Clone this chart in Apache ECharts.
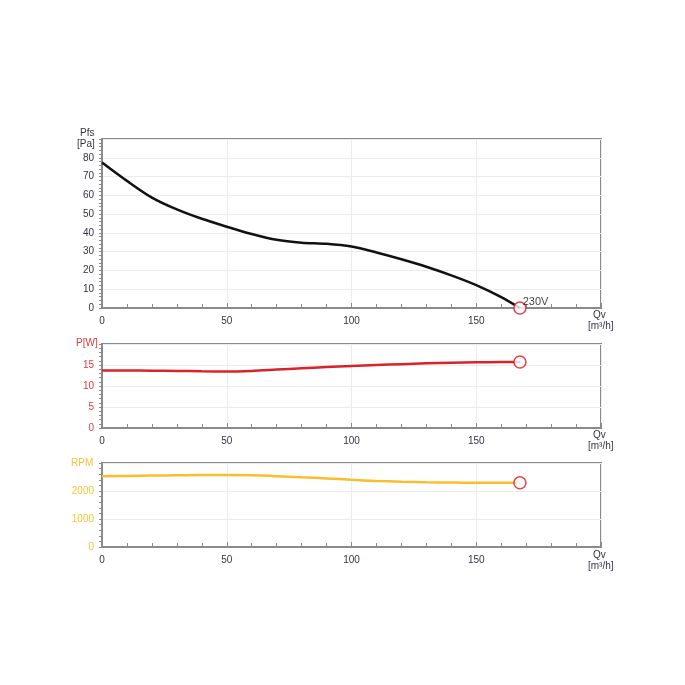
<!DOCTYPE html>
<html>
<head>
<meta charset="utf-8">
<script src="https://cdn.jsdelivr.net/npm/echarts@6/dist/echarts.min.js"></script>
<style>
html, body { margin: 0; padding: 0; background: #fff; }
#main { width: 685px; height: 685px; }
</style>
</head>
<body>
<div id="main"></div>
<script>
// 风量 Qv [m3/h]
var qv = [0, 10, 20, 30, 40, 50, 60, 70, 80, 90, 100, 110, 120, 130, 140, 150, 160, 167.5];
// 静压 Pfs [Pa]
var pfs = [77.5, 67.7, 58.8, 52.5, 47.5, 43.3, 39.4, 36.3, 34.8, 34.2, 32.7, 29.6, 26, 22, 17.4, 12.2, 5.8, 0];
// 功率 P [W]
var power = [13.7, 13.7, 13.65, 13.6, 13.5, 13.45, 13.6, 13.9, 14.2, 14.5, 14.75, 15, 15.2, 15.4, 15.55, 15.65, 15.7, 15.7];
// 转速 RPM
var rpm = [2530, 2540, 2550, 2560, 2570, 2570, 2560, 2530, 2490, 2450, 2400, 2360, 2330, 2310, 2300, 2295, 2295, 2295];
var endLabel = "230V";

var font = "Liberation Sans";
var frameColor = "#8a8a8a";
var gridLineColor = "#ececec";
var textColor = "#333344";

function pairs(xs, ys) {
	var arr = [];
	for (var i = 0; i < xs.length; i++) {
		arr.push([xs[i], ys[i]]);
	}
	return arr;
}

function lastPoint(xs, ys) {
	return [[xs[xs.length - 1], ys[ys.length - 1]]];
}

/**
 * x轴
 */
function makeX(idx) {
	return {
		type: 'value',
		gridIndex: idx,
		min: 0,
		max: 200,
		interval: 50,
		axisLine: { show: true, lineStyle: { color: frameColor, width: 2 } },
		axisTick: { show: true, inside: true, length: 5, lineStyle: { color: frameColor } },
		minorTick: { show: true, splitNumber: 5, length: 4, lineStyle: { color: frameColor } },
		axisLabel: {
			color: textColor, fontFamily: font, fontSize: 10, margin: 8,
			formatter: function(v) { return v >= 200 ? '' : v; }
		},
		splitLine: { show: true, lineStyle: { color: gridLineColor } }
	};
}

/**
 * y轴
 */
function makeY(idx, max, interval, labelColor) {
	return {
		type: 'value',
		gridIndex: idx,
		min: 0,
		max: max,
		interval: interval,
		axisLine: { show: true, lineStyle: { color: frameColor, width: 2 } },
		axisTick: { show: true, length: 3, lineStyle: { color: frameColor } },
		minorTick: { show: true, splitNumber: 5, length: 3, lineStyle: { color: frameColor } },
		axisLabel: {
			color: labelColor, fontFamily: font, fontSize: 10, margin: 8,
			formatter: function(v) { return v >= max ? '' : v; }
		},
		splitLine: { show: true, lineStyle: { color: gridLineColor } }
	};
}

function markerSeries(idx, data, label) {
	return {
		type: 'scatter',
		xAxisIndex: idx,
		yAxisIndex: idx,
		data: data,
		symbol: 'circle',
		symbolSize: 12,
		z: 5,
		itemStyle: { color: '#fff', borderColor: '#e2141c', borderWidth: 1.5 },
		label: label ? {
			show: true,
			formatter: label,
			position: 'right',
			offset: [-9, -6],
			color: '#111',
			fontFamily: font,
			fontSize: 11
		} : { show: false }
	};
}

function axisText(x, y, text, color) {
	return {
		type: 'text',
		left: x,
		top: y,
		style: {
			text: text,
			fill: color,
			font: '10px "' + font + '"'
		}
	};
}

var dom = document.getElementById('main');
var myChart = echarts.init(dom);

var option = {
	animation: false,
	backgroundColor: '#fff',
	grid: [
		{ left: 102, right: 84, top: 139, height: 169, show: true, borderColor: frameColor, borderWidth: 2 },
		{ left: 102, right: 84, top: 344, height: 84, show: true, borderColor: frameColor, borderWidth: 2 },
		{ left: 102, right: 84, top: 463, height: 84, show: true, borderColor: frameColor, borderWidth: 2 }
	],
	xAxis: [makeX(0), makeX(1), makeX(2)],
	yAxis: [
		makeY(0, 90, 10, textColor),
		makeY(1, 20, 5, '#e03a3a'),
		makeY(2, 3000, 1000, '#f8c23a')
	],
	graphic: [
		axisText(80, 128, 'Pfs', textColor),
		axisText(77, 139, '[Pa]', textColor),
		axisText(76, 338, 'P[W]', '#e03a3a'),
		axisText(71, 458, 'RPM', '#f8c23a'),
		axisText(593, 310, 'Qv', textColor),
		axisText(588, 321, '[m³/h]', textColor),
		axisText(593, 430, 'Qv', textColor),
		axisText(588, 441, '[m³/h]', textColor),
		axisText(593, 550, 'Qv', textColor),
		axisText(588, 561, '[m³/h]', textColor)
	],
	series: [
		{
			type: 'line', xAxisIndex: 0, yAxisIndex: 0,
			data: pairs(qv, pfs), smooth: 0.3, showSymbol: false,
			lineStyle: { color: '#111', width: 2.5 }
		},
		{
			type: 'line', xAxisIndex: 1, yAxisIndex: 1,
			data: pairs(qv, power), smooth: 0.3, showSymbol: false,
			lineStyle: { color: '#d9232b', width: 2.5 }
		},
		{
			type: 'line', xAxisIndex: 2, yAxisIndex: 2,
			data: pairs(qv, rpm), smooth: 0.3, showSymbol: false,
			lineStyle: { color: '#fbbd2e', width: 2.5 }
		},
		markerSeries(0, lastPoint(qv, pfs), endLabel),
		markerSeries(1, lastPoint(qv, power), null),
		markerSeries(2, lastPoint(qv, rpm), null)
	]
};

if (option && typeof option === "object") {
	myChart.setOption(option, true);
}
</script>
</body>
</html>
